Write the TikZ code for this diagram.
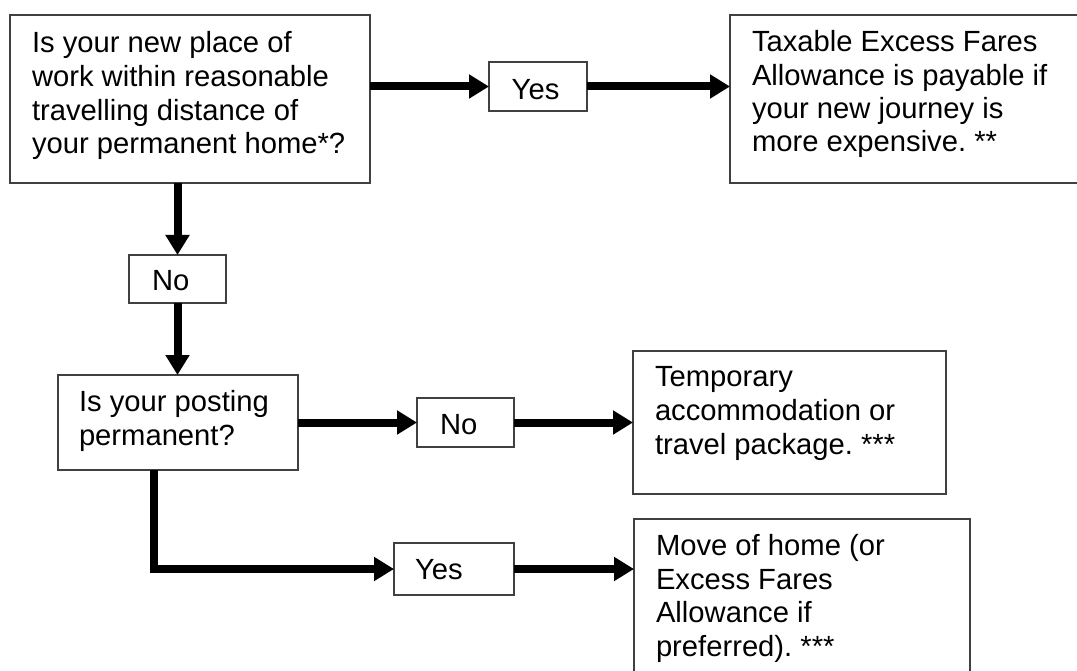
\documentclass[tikz,border=0pt]{standalone}
\usepackage{fontspec}
\setmainfont{Liberation Sans}
\usetikzlibrary{arrows.meta,calc}
\frenchspacing
\begin{document}
\begin{tikzpicture}[x=1pt,y=-1pt,
  box/.style={draw=black!75, line width=1.5pt, rectangle, inner sep=0pt, outer sep=0pt, anchor=north west, fill=white},
  txt/.style={anchor=north west, inner sep=0pt, outer sep=0pt, align=left, font=\fontsize{29.2}{33.6}\selectfont},
  flow/.style={line width=8pt, -{Triangle[length=20pt,width=23pt]}}]
\useasboundingbox (0,0) rectangle (1077,671);
\clip (0,0) rectangle (1077,671);
% boxes
\node[box, minimum width=360pt, minimum height=168pt] (A) at (10,15) {};
\node[box, minimum width=360pt, minimum height=168pt] (B) at (730,15) {};
\node[box, minimum width=98pt, minimum height=49pt] (Y1) at (489,62) {};
\node[box, minimum width=97pt, minimum height=48pt] (N1) at (129,255) {};
\node[box, minimum width=240pt, minimum height=95pt] (C) at (58,375) {};
\node[box, minimum width=97pt, minimum height=49pt] (N2) at (417,398) {};
\node[box, minimum width=313pt, minimum height=143pt] (D) at (633,351) {};
\node[box, minimum width=120pt, minimum height=52pt] (Y2) at (394,543) {};
\node[box, minimum width=336pt, minimum height=170pt] (E) at (634,519) {};
% texts
\node[txt, font=\fontsize{29.2}{33.7}\selectfont] (At) at (32,31.7) {Is your new place of\\work within reasonable\\travelling distance of\\your permanent home*?};
\node[txt, font=\fontsize{29.2}{33.3}\selectfont] (Bt) at (752,30.7) {Taxable Excess Fares\\Allowance is payable if\\your new journey is\\more expensive. **};
\node[txt] (Y1t) at (511.7,79) {Yes};
\node[txt] (N1t) at (152,270.7) {No};
\node[txt, font=\fontsize{29.2}{33.4}\selectfont] (Ct) at (79,390.7) {Is your posting\\permanent?};
\node[txt] (N2t) at (440,414.7) {No};
\node[txt, font=\fontsize{29.2}{34}\selectfont] (Dt) at (655,366.3) {Temporary\\accommodation or\\travel package. ***};
\node[txt] (Y2t) at (415,559) {Yes};
\node[txt, font=\fontsize{29.2}{33.9}\selectfont] (Et) at (656,534) {Move of home (or\\Excess Fares\\Allowance if\\preferred). ***};
% connectors
\draw[flow] (A.east |- Y1.west) -- (Y1.west);
\draw[flow] (Y1.east) -- (Y1.east -| B.west);
\draw[flow] (N1.north |- A.south) -- (N1.north);
\draw[flow] (N1.south) -- (N1.south |- C.north);
\draw[flow] (C.east |- N2.west) -- (N2.west);
\draw[flow] (N2.east) -- (N2.east -| D.west);
\draw[flow] ([xshift=-24pt]C.south) |- (Y2.west);
\draw[flow] (Y2.east) -- (Y2.east -| E.west);
\end{tikzpicture}
\end{document}
